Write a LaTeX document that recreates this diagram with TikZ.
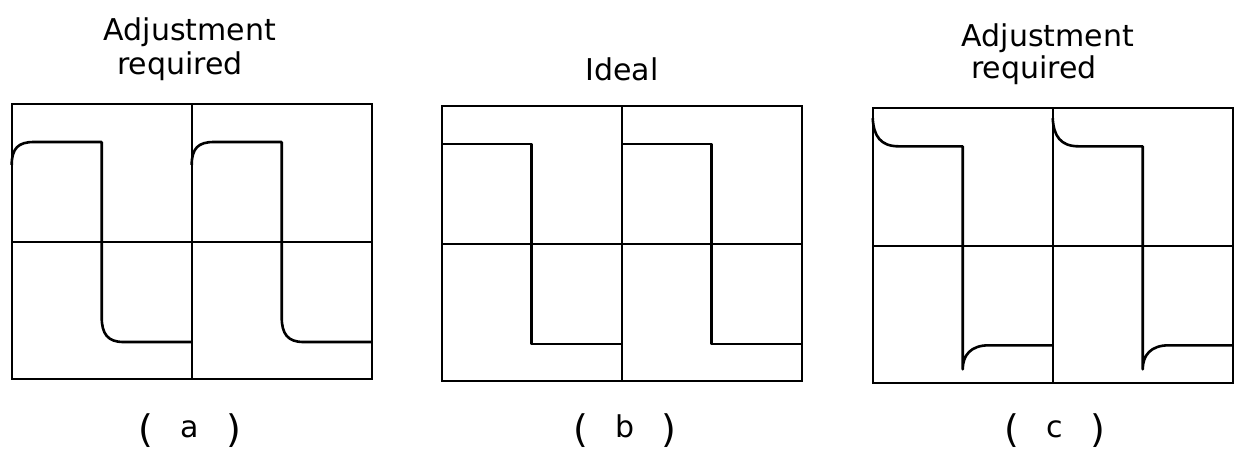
\documentclass[tikz,border=0pt]{standalone}
\usepackage{fontspec}
\setmainfont{DejaVu Sans}
\newcommand{\bigpar}[1]{\raisebox{-2.5pt}{\fontsize{19}{22}\selectfont #1}}
\begin{document}
\begin{tikzpicture}[x=0.5pt, y=-0.5pt,
  screenline/.style={black, line width=1pt},
  sigline/.style={black, line width=1.3pt, line join=round},
  captext/.style={font=\fontsize{15}{18}\selectfont, anchor=base, inner sep=0pt}]
  \useasboundingbox (0,0) rectangle (1235,452);
  % panel (a)
  \begin{scope}[shift={(11.7,104)}]
    \draw[screenline] (0,0) rectangle (360,275);
    \draw[screenline] (180,0) -- (180,275);
    \draw[screenline] (0,137.5) -- (360,137.5);
    \draw[sigline] (0,61) .. controls (0,44) and (7,38) .. (22,38) -- (90,38) -- (90,213) .. controls (90,230) and (96,238) .. (112,238) -- (180,238);
    \draw[sigline] (180,61) .. controls (180,44) and (187,38) .. (202,38) -- (270,38) -- (270,213) .. controls (270,230) and (276,238) .. (292,238) -- (360,238);
  \end{scope}
  % panel (b)
  \begin{scope}[shift={(441.7,106)}]
    \draw[screenline] (0,0) rectangle (360,275);
    \draw[screenline] (180,0) -- (180,275);
    \draw[screenline] (0,137.5) -- (360,137.5);
    \draw[sigline] (0,38) -- (90,38) -- (90,238) -- (180,238);
    \draw[sigline] (180,38) -- (270,38) -- (270,238) -- (360,238);
  \end{scope}
  % panel (c)
  \begin{scope}[shift={(872.7,108.3)}]
    \draw[screenline] (0,0) rectangle (360,275);
    \draw[screenline] (180,0) -- (180,275);
    \draw[screenline] (0,137.5) -- (360,137.5);
    \draw[sigline] (0,10) .. controls (1,28) and (8,38) .. (26,38) -- (90,38) -- (90,261) .. controls (90,247) and (98,237) .. (116,237) -- (180,237);
    \draw[sigline] (180,10) .. controls (181,28) and (188,38) .. (206,38) -- (270,38) -- (270,261) .. controls (270,247) and (278,237) .. (296,237) -- (360,237);
  \end{scope}
  % titles
  \node[captext] (adjA) at (190,40) {Adjustment};
  \node[captext] (reqA) at (180,74) {required};
  \node[captext] (ideal) at (622,80) {Ideal};
  \node[captext] (adjC) at (1048,46) {Adjustment};
  \node[captext] (reqC) at (1034,78) {required};
  % captions
  \node[captext] (capA) at (190,437) {\bigpar{(}\hspace{0.9em}a\hspace{0.9em}\bigpar{)}};
  \node[captext] (capB) at (625,437) {\bigpar{(}\hspace{0.9em}b\hspace{0.9em}\bigpar{)}};
  \node[captext] (capC) at (1055,437) {\bigpar{(}\hspace{0.9em}c\hspace{0.9em}\bigpar{)}};
\end{tikzpicture}
\end{document}
